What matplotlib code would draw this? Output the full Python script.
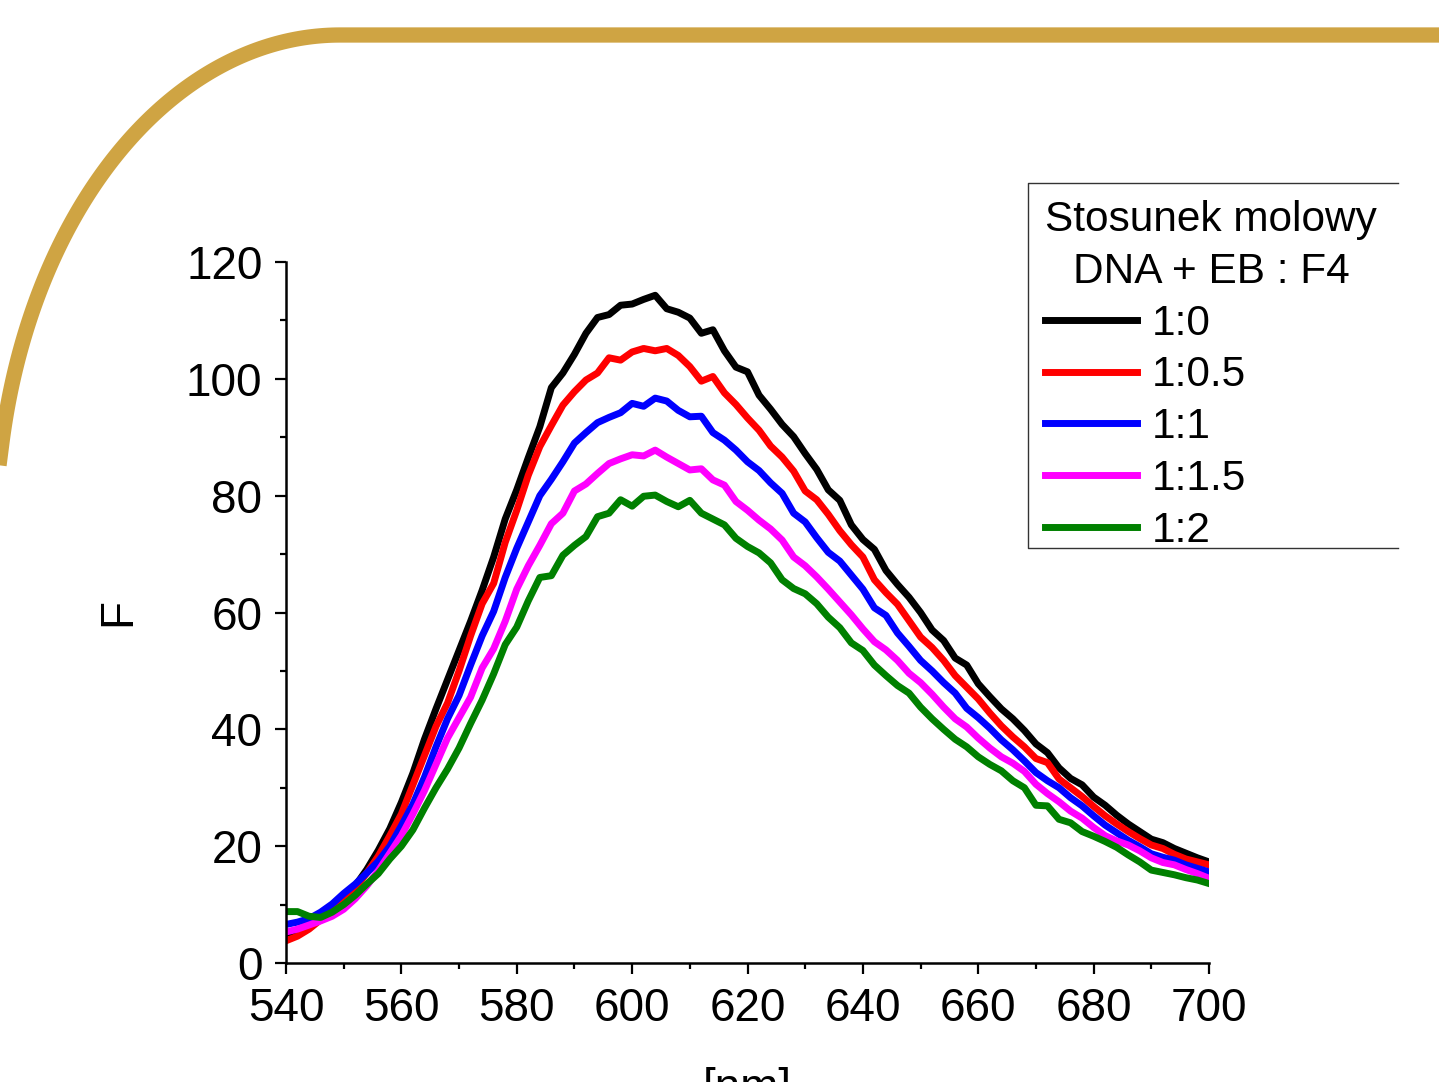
import numpy as np
import matplotlib
matplotlib.use("Agg")
import matplotlib.pyplot as plt
from matplotlib.ticker import MultipleLocator

plt.rcParams['font.family'] = ['Liberation Sans', 'DejaVu Sans']

# emission spectra, DNA + EB titrated with F4
wavelength = np.arange(540, 702, 2)

f_1_0 = [5.0, 5.6, 6.6, 8.0, 9.6, 11.4, 13.2, 16.0, 19.3, 23.0,
         27.5, 32.5, 38.3, 43.5, 48.5, 53.5, 58.5, 63.8, 69.5, 76.0,
         81.0, 86.5, 91.8, 98.5, 101.0, 104.2, 107.8, 110.5, 111.0, 112.6,
         112.8, 113.6, 114.3, 112.0, 111.4, 110.4, 107.8, 108.4, 104.8, 102.0,
         101.2, 97.2, 94.8, 92.2, 90.1, 87.2, 84.5, 81.0, 79.2, 75.0,
         72.5, 70.8, 67.2, 64.8, 62.6, 60.0, 57.0, 55.2, 52.2, 51.0,
         47.8, 45.6, 43.5, 41.8, 39.8, 37.5, 36.0, 33.4, 31.6, 30.5,
         28.4, 27.0, 25.3, 23.8, 22.5, 21.2, 20.6, 19.6, 18.8, 18.0, 17.3]

f_1_05 = [3.8, 4.6, 5.8, 7.4, 9.0, 10.8, 12.8, 15.4, 18.3, 21.8,
          25.5, 30.5, 35.5, 40.5, 44.5, 50.0, 56.0, 61.5, 65.0, 72.0,
          77.5, 83.5, 88.4, 92.0, 95.5, 97.8, 99.8, 101.0, 103.6, 103.2,
          104.6, 105.2, 104.8, 105.2, 104.0, 102.1, 99.6, 100.4, 97.6, 95.6,
          93.3, 91.2, 88.5, 86.6, 84.2, 80.8, 79.3, 76.8, 74.0, 71.6,
          69.5, 65.6, 63.4, 61.4, 58.6, 55.8, 54.0, 51.8, 49.2, 47.2,
          45.2, 42.8, 40.6, 38.7, 37.0, 35.0, 34.3, 31.5, 30.0, 28.5,
          26.8, 25.2, 23.8, 22.5, 21.3, 20.2, 19.6, 18.6, 17.8, 17.3, 16.8]

f_1_1 = [6.6, 7.0, 7.6, 8.7, 10.1, 11.9, 13.5, 15.4, 17.4, 20.0,
         23.5, 27.2, 31.8, 37.0, 41.8, 45.8, 51.0, 56.0, 60.2, 66.0,
         71.0, 75.5, 80.0, 82.8, 85.8, 89.0, 90.8, 92.5, 93.4, 94.2,
         95.8, 95.3, 96.7, 96.2, 94.6, 93.5, 93.6, 90.8, 89.5, 87.8,
         85.8, 84.3, 82.2, 80.4, 77.0, 75.5, 72.8, 70.3, 68.8, 66.4,
         64.0, 60.8, 59.5, 56.5, 54.2, 51.8, 50.0, 48.0, 46.2, 43.6,
         42.0, 40.2, 38.2, 36.5, 34.6, 32.6, 31.2, 30.0, 28.3, 26.9,
         25.2, 23.6, 22.3, 21.0, 19.9, 18.7, 18.1, 17.6, 16.8, 16.2, 15.6]

f_1_15 = [5.3, 5.8, 6.5, 7.2, 8.0, 9.2, 11.0, 13.2, 15.8, 18.8,
          21.8, 25.5, 29.5, 34.0, 38.5, 42.0, 45.5, 50.5, 53.8, 58.5,
          64.0, 68.0, 71.5, 75.2, 77.0, 80.8, 82.0, 83.8, 85.5, 86.3,
          87.0, 86.8, 87.8, 86.6, 85.5, 84.4, 84.6, 82.7, 81.8, 79.0,
          77.5, 75.8, 74.3, 72.4, 69.5, 68.0, 66.1, 64.0, 61.8, 59.6,
          57.2, 55.0, 53.6, 51.8, 49.6, 48.0, 46.0, 43.8, 41.8, 40.4,
          38.5, 36.8, 35.3, 34.2, 32.8, 30.6, 29.0, 27.6, 26.0, 24.8,
          23.2, 21.8, 20.9, 20.2, 19.2, 18.0, 17.2, 16.8, 16.0, 15.3, 14.5]

f_1_2 = [8.8, 8.8, 8.0, 7.8, 8.7, 10.0, 11.6, 13.5, 15.3, 17.8,
         20.0, 22.8, 26.5, 30.0, 33.2, 36.8, 41.0, 45.0, 49.5, 54.5,
         57.5, 62.0, 66.0, 66.3, 69.8, 71.5, 73.0, 76.4, 77.0, 79.3,
         78.2, 79.9, 80.1, 79.0, 78.1, 79.2, 77.0, 76.0, 75.0, 72.7,
         71.3, 70.2, 68.5, 65.6, 64.1, 63.2, 61.5, 59.2, 57.4, 54.8,
         53.5, 51.0, 49.2, 47.5, 46.2, 43.8, 41.8, 40.0, 38.3, 37.0,
         35.3, 34.0, 32.9, 31.2, 30.0, 27.0, 26.9, 24.6, 24.0, 22.5,
         21.7, 20.8, 19.8, 18.5, 17.3, 15.9, 15.5, 15.1, 14.6, 14.2, 13.6]

series = [f_1_0, f_1_05, f_1_1, f_1_15, f_1_2]
labels = ['1:0', '1:0.5', '1:1', '1:1.5', '1:2']
colors = ['black', 'red', 'blue', 'magenta', 'green']

W, H = 1439, 1082
fig = plt.figure(figsize=(W / 100, H / 100), dpi=100)

# slide decoration: gold rounded corner + top rule, in pixel coords
bg = fig.add_axes([0, 0, 1, 1])
bg.set_xlim(0, W)
bg.set_ylim(H, 0)
bg.axis('off')
gold = '#CFA443'
t = np.radians(np.linspace(190.7, 270, 120))
arc_x = np.concatenate([[-14], 340 + 344 * np.cos(t), [W + 20]])
arc_y = np.concatenate([[566], 535 + 500 * np.sin(t), [35]])
bg.plot(arc_x, arc_y, color=gold, lw=11, solid_capstyle='butt',
        solid_joinstyle='round')

# legend box (right side is cut off in the original)
bg.plot([1398, 1028, 1028, 1398], [183, 183, 548, 548], color='#333333', lw=1.0)

ax = fig.add_axes([286 / W, 1 - 963 / H, 923 / W, 701 / H])
ax.set_facecolor('none')
for y, lab, c in zip(series, labels, colors):
    ax.plot(wavelength, y, color=c, lw=5, label=lab)

ax.set_xlim(540, 700)
ax.set_ylim(0, 120)
ax.xaxis.set_major_locator(MultipleLocator(20))
ax.xaxis.set_minor_locator(MultipleLocator(10))
ax.yaxis.set_major_locator(MultipleLocator(20))
ax.yaxis.set_minor_locator(MultipleLocator(10))
for s in ['top', 'right']:
    ax.spines[s].set_visible(False)
for s in ['left', 'bottom']:
    ax.spines[s].set_linewidth(1.8)
ax.tick_params(which='major', direction='out', length=8, width=1.6,
               labelsize=33, pad=9)
ax.tick_params(which='minor', direction='out', length=4.5, width=1.6)

ax.set_ylabel('F', fontsize=33, labelpad=33)
ax.set_xlabel('[nm]', fontsize=33, labelpad=26)

leg = ax.legend(title='Stosunek molowy\nDNA + EB : F4', loc='upper left',
                bbox_to_anchor=(1028 / W, 1 - 183 / H),
                bbox_transform=fig.transFigure, frameon=False,
                fontsize=30.5, title_fontsize=30.5, handlelength=2.17,
                handletextpad=0.36, labelspacing=0.28, borderpad=0.4,
                borderaxespad=0, alignment='left')
leg.get_title().set_multialignment('center')
leg.get_title().set_linespacing(1.38)

fig.savefig('out.png', dpi=100)
